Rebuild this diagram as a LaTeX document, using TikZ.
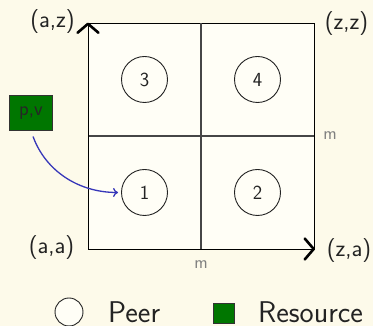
\documentclass[tikz,border=0pt]{standalone}
\usepackage{fontspec}
\usetikzlibrary{arrows.meta}
\definecolor{bgout}{RGB}{253,250,234}
\definecolor{bgin}{RGB}{255,254,246}
\definecolor{resgreen}{RGB}{0,118,0}
\definecolor{arrowblue}{RGB}{55,55,185}
\definecolor{txt}{RGB}{35,35,35}
\definecolor{divline}{RGB}{70,70,70}
\begin{document}
\begin{tikzpicture}[x=1pt,y=1pt,
  peer/.style={circle,draw=txt,line width=0.9pt,fill=bgin,minimum size=46pt,inner sep=0pt,
    text=txt,font=\sffamily\fontsize{20}{20}\selectfont},
  resbox/.style={draw=black!80,line width=0.8pt,fill=resgreen,inner sep=0pt},
  corner/.style={inner sep=0pt,text=txt,font=\sffamily\fontsize{24}{24}\selectfont},
  mlabel/.style={inner sep=0pt,text=black!50,font=\sffamily\fontsize{18}{18}\selectfont},
  legend/.style={inner sep=0pt,anchor=west,text=txt,font=\sffamily\fontsize{30}{30}\selectfont},
  axis/.style={line width=0.9pt,draw=black,-{Straight Barb[length=9pt,width=21pt,line width=2.6pt,round]}},
  divider/.style={line width=1.6pt,draw=divline}
]
\fill[bgout] (0,0) rectangle (373,326);
\useasboundingbox (0,0) rectangle (373,326);

% square
\filldraw[fill=bgin,draw=black,line width=0.8pt] (88,77) rectangle (314,303);
\coordinate (vt) at (201,303);
\coordinate (vb) at (201,77);
\coordinate (hl) at (88,190);
\coordinate (hr) at (314,190);
\draw[divider] (vb) -- (vt);
\draw[divider] (hl) -- (hr);

% axes
\coordinate (o) at (88,77);
\coordinate (ytip) at (88,303.5);
\coordinate (xtip) at (315,77);
\draw[axis] (o) -- (ytip);
\draw[axis] (o) -- (xtip);

% peers
\node[peer] (n3) at (144.5,246.5) {3};
\node[peer] (n4) at (257.5,246.5) {4};
\node[peer] (n1) at (144.5,133.5) {1};
\node[peer] (n2) at (257.5,133.5) {2};

% corner labels
\node[corner] (laz) at (52.5,304) {(a,z)};
\node[corner] (lzz) at (346.5,302) {(z,z)};
\node[corner] (laa) at (51.5,78) {(a,a)};
\node[corner] (lza) at (349,75) {(z,a)};
\node[mlabel] (mb) at (201,61.5) {m};
\node[mlabel] (mr) at (330,190) {m};

% resource
\node[resbox,minimum width=43pt,minimum height=35pt,text=black!85,
  font=\sffamily\fontsize{20}{20}\selectfont] (pv) at (31,213) {p,v};
\draw[arrowblue,line width=1.3pt,-{To[length=5pt,width=9pt]},shorten <=6pt,shorten >=3pt]
  (pv.south) to[out=-70,in=180] (n1.west);

% legend
\node[peer,minimum size=28pt] (lp) at (69,14) {};
\node[legend] (lpt) at (108,14) {Peer};
\node[resbox,minimum width=21pt,minimum height=20pt] (lr) at (223.5,13) {};
\node[legend] (lrt) at (258,14) {Resource};
\end{tikzpicture}
\end{document}
